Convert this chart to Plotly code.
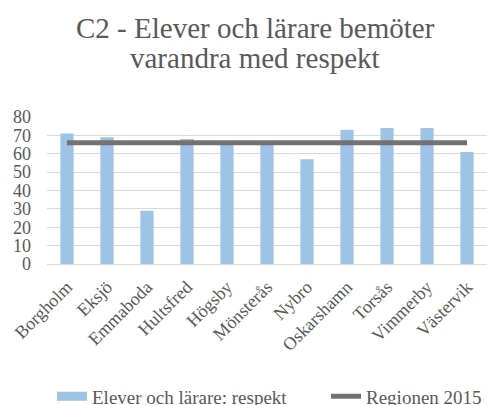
import plotly.graph_objects as go

categories = ["Borgholm", "Eksjö", "Emmaboda", "Hultsfred", "Högsby", "Mönsterås",
              "Nybro", "Oskarshamn", "Torsås", "Vimmerby", "Västervik"]
respekt = [71, 69, 29, 68, 66, 66, 57, 73, 74, 74, 61]
region_2015 = [66] * len(categories)
y_ticks = [0, 10, 20, 30, 40, 50, 60, 70, 80]
title_lines = ["C2 - Elever och lärare bemöter", "varandra med respekt"]

FONT = "Liberation Serif"
GREY = "#595959"
BAR_COLOR = "#9DC3E6"
LINE_COLOR = "#767171"

fig = go.Figure()
fig.add_trace(go.Bar(
    x=categories, y=respekt, name="Elever och lärare: respekt",
    marker=dict(color=BAR_COLOR, line=dict(width=0)),
    showlegend=False,
))
fig.add_trace(go.Scatter(
    x=categories, y=region_2015, name="Regionen 2015", mode="lines",
    line=dict(color=LINE_COLOR, width=5), showlegend=False,
))
# legend entries (wide swatches like the original)
fig.add_trace(go.Scatter(
    x=[None], y=[None], name="Elever och lärare: respekt", mode="lines",
    line=dict(color=BAR_COLOR, width=9), legend="legend",
))
fig.add_trace(go.Scatter(
    x=[None], y=[None], name="Regionen 2015", mode="lines",
    line=dict(color=LINE_COLOR, width=5), legend="legend2",
))

legend_common = dict(
    orientation="h", xref="container",
    y=-0.90, yanchor="middle",
    font=dict(family=FONT, size=19, color=GREY),
    bgcolor="rgba(0,0,0,0)",
)

fig.update_layout(
    width=487, height=405,
    paper_bgcolor="white", plot_bgcolor="white",
    margin=dict(l=47, r=0, t=117, b=141, autoexpand=False),
    bargap=0.67,
    font=dict(family=FONT, color=GREY, size=18),
    xaxis=dict(
        tickangle=-45, showgrid=False, showline=False, ticks="",
        automargin=False, ticklabelstandoff=8,
        tickfont=dict(family=FONT, size=18, color=GREY),
    ),
    yaxis=dict(
        range=[0, 80], tickvals=y_ticks, showgrid=True, gridcolor="#D9D9D9",
        gridwidth=1, zeroline=True, zerolinecolor="#D9D9D9", zerolinewidth=1,
        ticks="", automargin=False, ticklabelstandoff=15,
        tickfont=dict(family=FONT, size=18, color=GREY),
    ),
    legend=dict(legend_common, x=52 / 487, xanchor="left"),
    legend2=dict(legend_common, x=1.0, xanchor="right"),
    showlegend=True,
)

for txt, ypx in zip(title_lines, [28, 58]):
    fig.add_annotation(
        text=txt, xref="paper", yref="paper",
        x=(255 - 47) / 440, xanchor="center",
        y=1 + (117 - ypx) / 147.6, yanchor="middle",
        showarrow=False, font=dict(family=FONT, size=29, color=GREY),
    )

fig.write_html("out.html", config={"displayModeBar": False},
               post_script="document.body.style.margin='0';")
